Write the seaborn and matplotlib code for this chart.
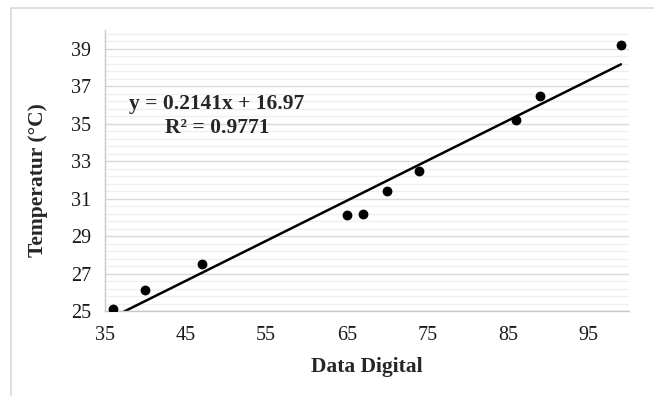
import matplotlib
matplotlib.use("Agg")
import matplotlib.pyplot as plt
import seaborn as sns
import pandas as pd
import numpy as np
from matplotlib.patches import Rectangle
from matplotlib.ticker import FixedLocator

data_digital = [36, 40, 47, 65, 67, 70, 74, 86, 89, 99]
temperatur = [25.1, 26.1, 27.5, 30.1, 30.2, 31.4, 32.5, 35.2, 36.5, 39.2]
x_ticks = [35, 45, 55, 65, 75, 85, 95]
y_ticks = [25, 27, 29, 31, 33, 35, 37, 39]
eq_text = "y = 0.2141x + 16.97"
r2_text = "R² = 0.9771"

df = pd.DataFrame({"Data Digital": data_digital, "Temperatur": temperatur})

sns.set_style("white")
plt.rcParams["font.family"] = ["Liberation Serif", "DejaVu Serif"]

fig = plt.figure(figsize=(6.54, 3.96), dpi=100)
fig.patches.append(Rectangle((11 / 654, -0.1), 1.2, 1 - 8 / 396 + 0.1,
                             transform=fig.transFigure, fill=False,
                             edgecolor="#d9d9d9", linewidth=1.2, zorder=0))
ax = fig.add_axes([105 / 654, 1 - 311 / 396, (629 - 105) / 654, (311 - 30) / 396])

sns.regplot(data=df, x="Data Digital", y="Temperatur", ax=ax, ci=None,
            truncate=True,
            scatter_kws={"color": "black", "s": 50, "alpha": 1, "zorder": 3,
                         "linewidths": 0},
            line_kws={"color": "black", "linewidth": 1.8, "zorder": 2})

ax.set_xlim(35, 100)
ax.set_ylim(25, 40)
ax.xaxis.set_major_locator(FixedLocator(x_ticks))
ax.yaxis.set_major_locator(FixedLocator(y_ticks))
ax.yaxis.set_minor_locator(FixedLocator(np.arange(25.4, 39.9, 0.4)))
ax.grid(axis="y", which="major", color="#d9d9d9", linewidth=1.0)
ax.grid(axis="y", which="minor", color="#efefef", linewidth=0.9)
ax.grid(axis="x", visible=False)
ax.set_axisbelow(True)

for s in ["top", "right"]:
    ax.spines[s].set_visible(False)
for s in ["left", "bottom"]:
    ax.spines[s].set_color("#c8c8c8")
    ax.spines[s].set_linewidth(1.0)

ax.tick_params(axis="both", which="major", direction="out", length=5,
               color="#c8c8c8", width=1.0, labelsize=14.5, labelcolor="#1a1a1a")
ax.tick_params(axis="x", pad=6)
ax.tick_params(axis="y", pad=5)
ax.tick_params(axis="y", which="minor", length=0)

ax.set_xlabel("Data Digital", fontsize=15.5, fontweight="bold")
ax.set_ylabel("Temperatur (°C)", fontsize=15.5, fontweight="bold")
ax.xaxis.set_label_coords((367 - 105) / 524, (311 - 367) / 281)
ax.xaxis.label.set_va("center")
ax.yaxis.set_label_coords((38 - 105) / 524, (311 - 180) / 281)
ax.yaxis.label.set_va("center")

ax.text((217 - 105) / 524, (311 - 104) / 281, eq_text, transform=ax.transAxes,
        ha="center", va="center", fontsize=15.5, fontweight="bold")
ax.text((217 - 105) / 524, (311 - 128) / 281, r2_text, transform=ax.transAxes,
        ha="center", va="center", fontsize=15.5, fontweight="bold")

fig.savefig("out.png", dpi=100)
